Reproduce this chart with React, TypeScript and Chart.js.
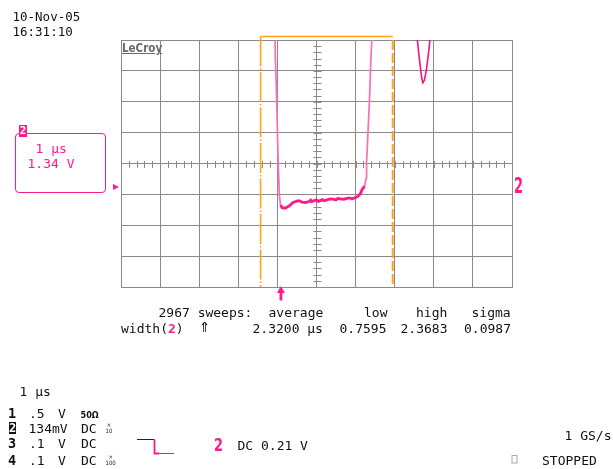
import React, { useEffect, useRef } from "react";
import { Chart, registerables } from "chart.js";

Chart.register(...registerables);

// ---- data (time in µs from left edge, channel 2 in volts, 0 V at screen centre)
const TIME_US = [
  3.93, 3.95, 3.98, 4.02, 4.05, 4.08, 4.12, 4.19, 4.3, 4.4,
  4.53, 4.58, 4.63, 4.71, 4.81, 4.85, 4.88, 4.94, 5.0, 5.05,
  5.09, 5.15, 5.2, 5.27, 5.35, 5.42, 5.5, 5.55, 5.6, 5.7,
  5.78, 5.85, 5.9, 5.96, 6.06, 6.13, 6.16, 6.23, 6.27, 6.28,
  6.32, 6.36, 6.39, 6.42, 6.43,
];
const CH2_V = [
  6.02, 4.49, 2.88, 0.03, -1.37, -1.8, -1.92, -1.94, -1.85, -1.69,
  -1.61, -1.63, -1.68, -1.7, -1.65, -1.59, -1.66, -1.61, -1.58, -1.65,
  -1.61, -1.57, -1.62, -1.58, -1.54, -1.55, -1.58, -1.51, -1.54, -1.55,
  -1.51, -1.49, -1.53, -1.5, -1.43, -1.29, -1.15, -0.98, -0.63, 0.03,
  1.46, 2.97, 4.49, 5.57, 6.23,
];
const ECHO_TIME_US = [7.56, 7.58, 7.62, 7.66, 7.69, 7.72, 7.76, 7.81, 7.86, 7.9, 7.93];
const ECHO_V = [6.02, 5.36, 4.7, 4.14, 3.71, 3.51, 3.62, 4.06, 4.7, 5.36, 6.02];

const US_PER_DIV = 1;
const VOLTS_PER_DIV = 1.34;
const X_TICKS = [0, 1, 2, 3, 4, 5, 6, 7, 8, 9, 10];
const Y_TICKS = [-5.36, -4.02, -2.68, -1.34, 0, 1.34, 2.68, 4.02, 5.36];
const CURSOR_T_US = [3.57, 6.95];
const MARKER_T_US = 4.09;
const CH2_OFFSET_V = -1.02;

const DATE_TEXT = "10-Nov-05";
const TIME_TEXT = "16:31:10";
const SWEEPS = "2967 sweeps:";
const STAT_HEADERS = ["average", "low", "high", "sigma"];
const STAT_VALUES = ["2.3200 µs", "0.7595", "2.3683", "0.0987"];
const CH_NUM = ["1", "2", "3", "4"];
const CH_SCALE = [".5", "134mV", ".1", ".1"];
const CH_UNIT = ["V", "", "V", "V"];
const CH_COUPLING = ["50Ω", "DC", "DC", "DC"];
const CH_PROBE = ["", "10", "", "100"];

const PINK = "#ff1a8c";
const ORANGE = "#ffa41b";
const GRID = "#8a8a8a";

const scopePlugin = {
  id: "scopeDecor",
  beforeDatasetsDraw(chart: any) {
    const { ctx, chartArea, scales } = chart;
    const xs = scales.x;
    const ys = scales.y;
    ctx.save();
    // minor ticks on centre cross
    ctx.strokeStyle = GRID;
    ctx.lineWidth = 1;
    const cx = Math.round(xs.getPixelForValue(5 * US_PER_DIV)) + 0.5;
    const cy = Math.round(ys.getPixelForValue(0)) + 0.5;
    ctx.beginPath();
    for (let k = 0; k <= 40; k++) {
      const y = Math.round(ys.getPixelForValue(-4 * VOLTS_PER_DIV + k * VOLTS_PER_DIV / 5)) + 0.5;
      ctx.moveTo(cx - 4, y);
      ctx.lineTo(cx + 4, y);
    }
    for (let k = 0; k <= 50; k++) {
      const x = Math.round(xs.getPixelForValue(k * US_PER_DIV / 5)) + 0.5;
      ctx.moveTo(x, cy - 3.5);
      ctx.lineTo(x, cy + 3.5);
    }
    ctx.stroke();
    // cursors
    const x1 = xs.getPixelForValue(CURSOR_T_US[0]);
    const x2 = xs.getPixelForValue(CURSOR_T_US[1]);
    const topY = chartArea.top - 3.5;
    ctx.strokeStyle = ORANGE;
    ctx.lineWidth = 1.6;
    ctx.setLineDash([30, 2, 1.5, 2]);
    ctx.beginPath();
    ctx.moveTo(x1, topY);
    ctx.lineTo(x1, chartArea.bottom);
    ctx.stroke();
    ctx.lineWidth = 2;
    ctx.setLineDash([10, 3]);
    ctx.beginPath();
    ctx.moveTo(x2, chartArea.top);
    ctx.lineTo(x2, chartArea.bottom);
    ctx.stroke();
    ctx.setLineDash([]);
    ctx.lineWidth = 1.5;
    ctx.beginPath();
    ctx.moveTo(x1, topY);
    ctx.lineTo(x2, topY);
    ctx.stroke();
    ctx.restore();
  },
  afterDatasetsDraw(chart: any) {
    const { ctx, chartArea, scales } = chart;
    const xs = scales.x;
    const ys = scales.y;
    ctx.save();
    ctx.fillStyle = PINK;
    // measurement marker arrow
    const ax = xs.getPixelForValue(MARKER_T_US);
    const b = chartArea.bottom;
    ctx.beginPath();
    ctx.moveTo(ax, b - 1);
    ctx.lineTo(ax + 4, b + 6);
    ctx.lineTo(ax - 4, b + 6);
    ctx.closePath();
    ctx.fill();
    ctx.fillRect(ax - 1.4, b + 5, 2.8, 8.5);
    // channel offset markers
    const oy = ys.getPixelForValue(CH2_OFFSET_V);
    const l = chartArea.left;
    ctx.beginPath();
    ctx.moveTo(l - 8, oy - 3);
    ctx.lineTo(l - 2, oy);
    ctx.lineTo(l - 8, oy + 3);
    ctx.closePath();
    ctx.fill();
    ctx.translate(chartArea.right + 2, oy + 6);
    ctx.scale(0.62, 1);
    ctx.font = "bold 21px 'DejaVu Sans'";
    ctx.textBaseline = "alphabetic";
    ctx.fillText("2", 0, 0);
    ctx.restore();
  },
};

const mono: React.CSSProperties = {
  position: "absolute",
  fontFamily: "'DejaVu Sans Mono', monospace",
  fontSize: 13,
  lineHeight: "13px",
  whiteSpace: "pre",
  color: "#111",
};

function T(props: { x: number; y: number; children: React.ReactNode; style?: React.CSSProperties }) {
  return <div style={{ ...mono, left: props.x, top: props.y, ...(props.style || {}) }}>{props.children}</div>;
}

const STAT_HEADER_X = [268.5, 364, 416, 471.5];
const STAT_VALUE_X = [252.5, 339.5, 400.5, 464];
const ROW_TOP = [406.5, 421.5, 436.5, 453.5];

export default function App() {
  const ref = useRef<HTMLCanvasElement | null>(null);

  useEffect(() => {
    document.body.style.margin = "0";
    const canvas = ref.current;
    if (!canvas) return;
    const main = TIME_US.map((t, i) => ({ x: t, y: CH2_V[i] }));
    const echo = ECHO_TIME_US.map((t, i) => ({ x: t, y: ECHO_V[i] }));
    const axis = (ticks: number[]) => ({
      type: "linear" as const,
      min: ticks[0],
      max: ticks[ticks.length - 1],
      afterBuildTicks: (s: any) => {
        s.ticks = ticks.map((v) => ({ value: v }));
      },
      ticks: { display: false },
      grid: { color: GRID, lineWidth: 1, drawTicks: false },
      border: { color: GRID, width: 1 },
    });
    const chart = new Chart(canvas, {
      type: "line",
      data: {
        datasets: [
          {
            data: main,
            borderColor: PINK,
            borderWidth: 2.8,
            pointRadius: 0,
            tension: 0,
            segment: {
              borderColor: (c: any) =>
                Math.abs(c.p1.y - c.p0.y) > 4 * Math.abs(c.p1.x - c.p0.x) ? "#ff6db3" : PINK,
              borderWidth: (c: any) =>
                Math.abs(c.p1.y - c.p0.y) > 4 * Math.abs(c.p1.x - c.p0.x) ? 1.7 : 2.8,
            },
          } as any,
          {
            data: echo,
            borderColor: "#f0157f",
            borderWidth: 1.6,
            pointRadius: 0,
            tension: 0,
          },
        ],
      },
      options: {
        responsive: false,
        animation: false,
        devicePixelRatio: 1,
        layout: { padding: { left: 121, top: 40, right: 101, bottom: 182 } },
        plugins: { legend: { display: false }, tooltip: { enabled: false } },
        scales: { x: axis(X_TICKS), y: axis(Y_TICKS) } as any,
      },
      plugins: [scopePlugin],
    });
    return () => chart.destroy();
  }, []);

  return (
    <div style={{ position: "fixed", left: 0, top: 0, width: 613, height: 469, background: "#fff", overflow: "hidden" }}>
      <canvas ref={ref} width={613} height={469} style={{ position: "absolute", left: 0, top: 0, width: 613, height: 469 }} />

      <T x={12.5} y={9.5} style={{ fontSize: 12.5 }}>{DATE_TEXT}</T>
      <T x={12.5} y={25.2} style={{ fontSize: 12.5 }}>{TIME_TEXT}</T>

      <div
        style={{
          position: "absolute",
          left: 122,
          top: 42,
          fontFamily: "'DejaVu Sans Condensed', 'DejaVu Sans', sans-serif",
          fontWeight: "bold",
          fontSize: 11.5,
          lineHeight: "12px",
          color: "#6a6a6a",
          textDecoration: "underline",
          textUnderlineOffset: 1,
        }}
      >
        LeCroy
      </div>

      {/* channel 2 box */}
      <div
        style={{
          position: "absolute",
          left: 15,
          top: 132.5,
          width: 89,
          height: 58.5,
          border: `1.5px solid ${PINK}`,
          borderRadius: 4,
        }}
      />
      <div
        style={{
          position: "absolute",
          left: 19,
          top: 125,
          width: 8,
          height: 12,
          background: PINK,
          color: "#fff",
          fontFamily: "'DejaVu Sans Mono', monospace",
          fontWeight: "bold",
          fontSize: 11,
          lineHeight: "12px",
          textAlign: "center",
        }}
      >
        2
      </div>
      <T x={35.5} y={141.8} style={{ color: PINK }}>{`1 µs`}</T>
      <T x={27.5} y={156.8} style={{ color: PINK }}>{`1.34 V`}</T>

      {/* measurement */}
      <T x={158.5} y={306.2}>{SWEEPS}</T>
      {STAT_HEADERS.map((h, i) => (
        <T key={h} x={STAT_HEADER_X[i]} y={306.2}>{h}</T>
      ))}
      <T x={121} y={321.5}>
        width(<span style={{ color: PINK, fontWeight: "bold" }}>2</span>)
      </T>
      <T x={199} y={320} style={{ fontFamily: "'DejaVu Sans', sans-serif", fontSize: 14, lineHeight: "14px" }}>⇑</T>
      {STAT_VALUES.map((v, i) => (
        <T key={i} x={STAT_VALUE_X[i]} y={321.5}>{v}</T>
      ))}

      {/* bottom-left: timebase and channels */}
      <T x={19.5} y={385.2}>{`1 µs`}</T>
      {CH_NUM.map((n, i) => (
        <React.Fragment key={n}>
          {i === 1 ? (
            <div
              style={{
                position: "absolute",
                left: 9,
                top: 421.5,
                width: 7,
                height: 12.5,
                background: "#111",
                color: "#fff",
                fontFamily: "'DejaVu Sans Mono', monospace",
                fontWeight: "bold",
                fontSize: 12,
                lineHeight: "13px",
                textAlign: "center",
              }}
            >
              {n}
            </div>
          ) : (
            <T x={8} y={ROW_TOP[i]} style={{ fontWeight: "bold", fontSize: 13.5 }}>{n}</T>
          )}
          <T x={i === 1 ? 28.5 : 29} y={ROW_TOP[i]}>{CH_SCALE[i]}</T>
          {CH_UNIT[i] ? <T x={58} y={ROW_TOP[i]}>{CH_UNIT[i]}</T> : null}
          {i === 0 ? (
            <T x={80.5} y={ROW_TOP[i] + 2} style={{ fontSize: 9, fontFamily: "'DejaVu Sans Condensed', sans-serif", fontWeight: "bold" }}>
              {CH_COUPLING[i]}
            </T>
          ) : (
            <T x={81} y={ROW_TOP[i]}>{CH_COUPLING[i]}</T>
          )}
          {CH_PROBE[i] ? (
            <div
              style={{
                position: "absolute",
                left: 105.5,
                top: ROW_TOP[i] + 0.5,
                fontFamily: "'DejaVu Sans Condensed', sans-serif",
                fontSize: 6,
                lineHeight: "5.5px",
                textAlign: "center",
                color: "#222",
              }}
            >
              ×<br />
              {CH_PROBE[i]}
            </div>
          ) : null}
        </React.Fragment>
      ))}

      {/* trigger symbol */}
      <svg width={613} height={469} style={{ position: "absolute", left: 0, top: 0, pointerEvents: "none" }}>
        <polyline points="137,439.5 154.5,439.5" stroke="#222" strokeWidth={1} fill="none" />
        <polyline points="154.5,439.5 154.5,453.5 159,453.5" stroke={PINK} strokeWidth={1.8} fill="none" />
        <polyline points="159,453.5 174,453.5" stroke="#666" strokeWidth={1} fill="none" />
        <rect x={512} y={455.5} width={5} height={7.5} stroke="#aaa" strokeWidth={1} fill="none" />
      </svg>
      <div
        style={{
          position: "absolute",
          left: 214,
          top: 434.5,
          fontFamily: "'DejaVu Sans', sans-serif",
          fontWeight: "bold",
          fontSize: 18,
          lineHeight: "20px",
          color: PINK,
          transform: "scaleX(0.72)",
          transformOrigin: "left top",
        }}
      >
        2
      </div>
      <T x={237.5} y={438.5}>{`DC 0.21 V`}</T>

      {/* bottom-right */}
      <T x={564.5} y={428.5}>{`1 GS/s`}</T>
      <T x={542} y={453.5}>STOPPED</T>
    </div>
  );
}
